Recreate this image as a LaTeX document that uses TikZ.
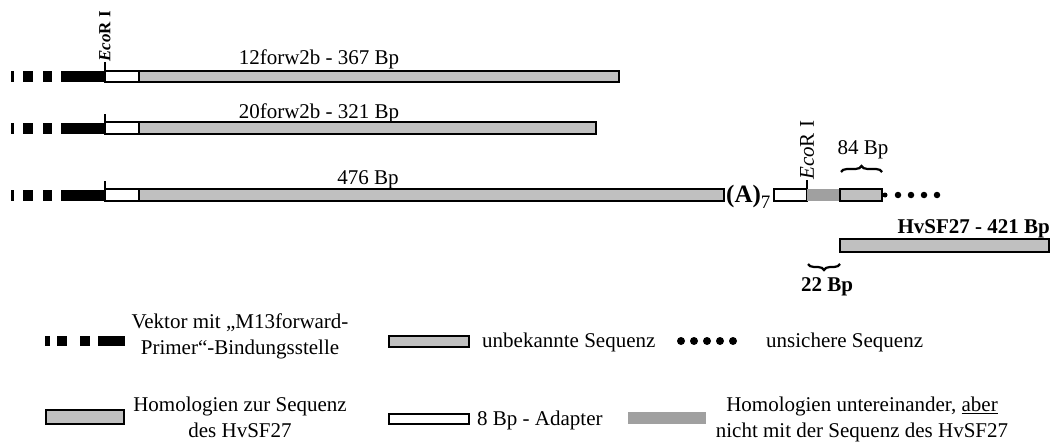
\documentclass[tikz,border=0pt]{standalone}
\usepackage{fontspec}
\setmainfont{Liberation Serif}
\usetikzlibrary{decorations.pathreplacing}
\definecolor{lgray}{HTML}{C0C0C0}
\definecolor{mgray}{HTML}{A0A0A0}
\begin{document}
\begin{tikzpicture}[x=1pt,y=-1pt,
  box/.style={draw=black,line width=2.4pt},
  seqbox/.style={box,fill=lgray},
  adbox/.style={box,fill=white},
  homobox/.style={fill=mgray},
  vec/.style={fill=black},
  tick/.style={line width=1.8pt},
  lbl/.style={font=\fontsize{21}{25}\selectfont,inner sep=0pt},
  blbl/.style={font=\fontsize{21}{25}\selectfont\bfseries,inner sep=0pt},
  brc/.style={decorate,decoration={brace,amplitude=6pt,aspect=0.5},line width=2.2pt},
  dot/.style={circle,fill=black,inner sep=0pt,minimum size=#1}
]
\useasboundingbox (0,0) rectangle (1054,444);

% ---------- rows 1-3 : vector parts
\foreach \yc/\n in {76.5/a,128/b,195/c}{
  \fill[vec] (11,\yc-5.5) rectangle (14,\yc+5.5);
  \fill[vec] (23,\yc-5.5) rectangle (33,\yc+5.5);
  \fill[vec] (43,\yc-5.5) rectangle (52,\yc+5.5);
  \fill[vec] (61,\yc-5.5) rectangle (104,\yc+5.5);
}

% ---------- row 1
\draw[adbox] (105,71) rectangle (139,82);
\draw[seqbox] (139,71) rectangle (619,82);
\coordinate (t1b) at (105,71);
\coordinate (t1t) at (105,62);
\draw[tick] (t1b) -- (t1t);
\node[rotate=90,anchor=west,inner sep=0pt,font=\fontsize{17}{20}\selectfont\bfseries] (eco1) at (t1t) {\textit{Eco}R I};
\node[lbl,anchor=base] (l1) at (319,65) {12forw2b - 367 Bp};

% ---------- row 2
\draw[adbox] (105,122) rectangle (139,134);
\draw[seqbox] (139,122) rectangle (596,134);
\coordinate (t2b) at (105,122);
\coordinate (t2t) at (105,114);
\draw[tick] (t2b) -- (t2t);
\node[lbl,anchor=base] (l2) at (319,118) {20forw2b - 321 Bp};

% ---------- row 3
\draw[adbox] (105,189) rectangle (139,201);
\draw[seqbox] (139,189) rectangle (724,201);
\coordinate (t3b) at (105,189);
\coordinate (t3t) at (105,181);
\draw[tick] (t3b) -- (t3t);
\node[lbl,anchor=base] (l3) at (368,184) {476 Bp};
\node[anchor=base west,inner sep=0pt,font=\fontsize{25}{28}\selectfont\bfseries] (polyA) at (726,202) {(A)\raisebox{-6pt}{\fontsize{19}{22}\selectfont\mdseries 7}};

\draw[adbox] (774,189) rectangle (807,201);
\fill[homobox] (807,189) rectangle (840,201);
\draw[seqbox] (840,189) rectangle (882,201);
\coordinate (t4b) at (807,189);
\coordinate (t4t) at (807,180);
\draw[tick] (t4b) -- (t4t);
\node[rotate=90,anchor=west,inner sep=0pt,font=\fontsize{21}{25}\selectfont] (eco2) at (t4t) {\textit{Eco}R I};

\node[dot=5pt] (d0) at (885,195) {};
\foreach \x/\n in {898/1,911/2,924/3,937/4}{ \node[dot=6.5pt] (d\n) at (\x,195) {}; }

% brace 84 Bp
\coordinate (b1a) at (841,172);
\coordinate (b1b) at (882,172);
\draw[brc] (b1a) -- (b1b);
\node[lbl,anchor=base] (l84) at (863,154) {84 Bp};

% HvSF27
\draw[seqbox] (840,239) rectangle (1049,252);
\node[blbl,anchor=base east] (lhv) at (1050,233) {HvSF27 - 421 Bp};

% brace 22 Bp
\coordinate (b2a) at (840,264);
\coordinate (b2b) at (808,264);
\draw[brc] (b2a) -- (b2b);
\node[blbl,anchor=base] (l22) at (827,291) {22 Bp};

% ---------- legend
\fill[vec] (45,336) rectangle (50,346);
\fill[vec] (57,336) rectangle (67,346);
\fill[vec] (80,336) rectangle (90,346);
\fill[vec] (98,336) rectangle (125,346);
\node[lbl,align=center,anchor=north] (lg1) at (240,314) {Vektor mit „M13forward-\\[1pt]Primer“-Bindungsstelle};

\draw[seqbox] (389,336) rectangle (469,347);
\node[lbl,anchor=base west] (lg2) at (482,347) {unbekannte Sequenz};

\foreach \x/\n in {681/1,694/2,707/3,720/4,733/5}{ \node[dot=8pt] (ld\n) at (\x,341) {}; }
\node[lbl,anchor=base west] (lg3) at (766,347) {unsichere Sequenz};

\draw[seqbox] (46,410) rectangle (124,424);
\node[lbl,align=center,anchor=north] (lg4) at (240,397) {Homologien zur Sequenz\\[1pt]des HvSF27};

\draw[adbox] (389,414) rectangle (469,424);
\node[lbl,anchor=base west] (lg5) at (477,425) {8 Bp - Adapter};

\fill[homobox] (628,412) rectangle (706,424);
\node[lbl,align=center,anchor=north] (lg6) at (862,397) {Homologien untereinander, \underline{aber}\\[1pt]nicht mit der Sequenz des HvSF27};
\end{tikzpicture}
\end{document}
